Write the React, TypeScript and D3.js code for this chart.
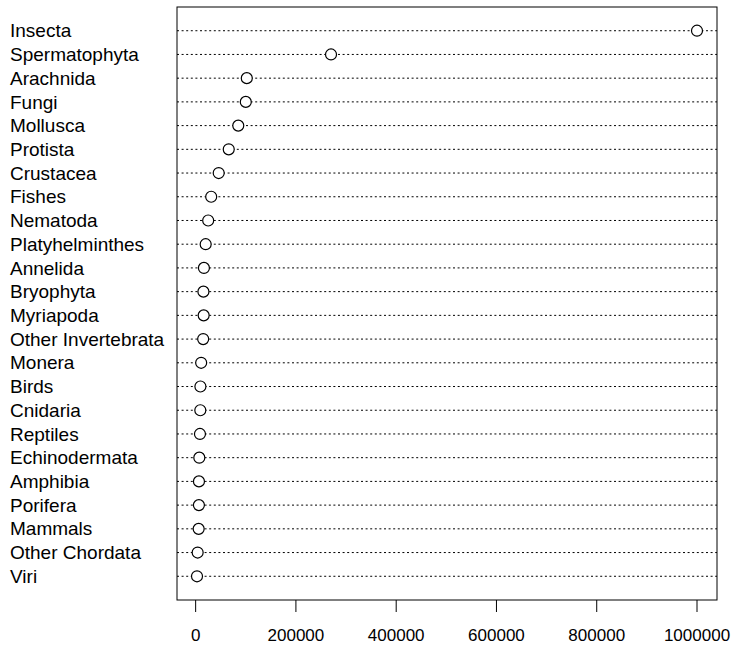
import React from "react";
import * as d3 from "d3";

const categories = [
  "Insecta", "Spermatophyta", "Arachnida", "Fungi", "Mollusca", "Protista",
  "Crustacea", "Fishes", "Nematoda", "Platyhelminthes", "Annelida", "Bryophyta",
  "Myriapoda", "Other Invertebrata", "Monera", "Birds", "Cnidaria", "Reptiles",
  "Echinodermata", "Amphibia", "Porifera", "Mammals", "Other Chordata", "Viri",
];
const values = [
  1000000, 270000, 102000, 100000, 85000, 66000,
  46000, 31000, 25000, 20000, 16500, 15500,
  16000, 15000, 11000, 9500, 9300, 8600,
  7300, 6600, 6500, 6000, 4000, 2700,
];
const tickValues = [0, 200000, 400000, 600000, 800000, 1000000];

const W = 738, H = 645;
const left = 177, right = 717, top = 7, bottom = 600;

export default function App() {
  const min = d3.min(values)!;
  const max = d3.max(values)!;
  const pad = (max - min) * 0.04;
  const x = d3.scaleLinear().domain([min - pad, max + pad]).range([left, right]);
  const n = categories.length;
  const y = d3.scaleLinear().domain([0, n + 1]).range([bottom, top]);
  const font = "'Liberation Sans', Arial, Helvetica, sans-serif";

  return (
    <svg width={W} height={H} style={{ position: "absolute", left: 0, top: 0 }}>
      <rect x={0} y={0} width={W} height={H} fill="white" />
      {categories.map((c, i) => {
        const yy = y(n - i);
        return (
          <g key={c}>
            <line x1={left} x2={right} y1={yy} y2={yy} stroke="#000" strokeWidth={1} strokeDasharray="2,2.6" />
            <text x={10} y={yy} dy="0.35em" fontFamily={font} fontSize={19} fill="#000">{c}</text>
            <circle cx={x(values[i])} cy={yy} r={5.5} fill="white" stroke="#000" strokeWidth={1.2} />
          </g>
        );
      })}
      <rect x={left} y={top} width={right - left} height={bottom - top} fill="none" stroke="#000" strokeWidth={1} />
      {tickValues.map((t) => (
        <g key={t}>
          <line x1={x(t)} x2={x(t)} y1={bottom} y2={bottom + 12} stroke="#000" strokeWidth={1} />
          <text x={x(t)} y={641} textAnchor="middle" fontFamily={font} fontSize={17} fill="#000">{t}</text>
        </g>
      ))}
    </svg>
  );
}
